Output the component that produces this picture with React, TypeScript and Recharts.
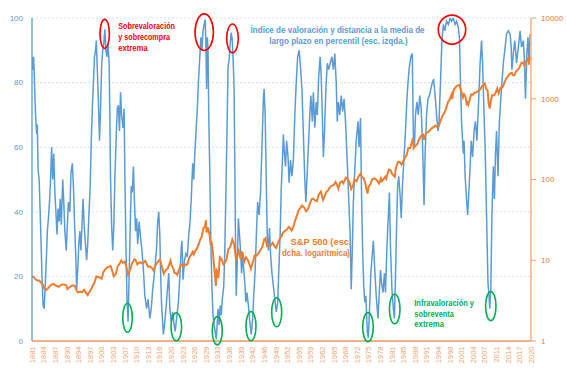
import React from 'react';
import { ComposedChart, Line, XAxis, YAxis, CartesianGrid, ReferenceDot } from 'recharts';

// Valuation index percentile (left axis): [year, value]
const valuation: [number, number][] = [
  [1881.0, 84], [1881.15, 88], [1881.3, 84], [1881.45, 88], [1881.7, 80], [1882.0, 70], [1882.3, 64], [1882.5, 67],
  [1882.7, 53], [1883.0, 50], [1883.2, 43], [1883.5, 32], [1883.8, 20], [1884.1, 11], [1884.4, 10], [1884.7, 17],
  [1885.0, 25], [1885.3, 34], [1885.6, 38], [1885.9, 43], [1886.2, 50], [1886.5, 60], [1886.8, 50], [1887.1, 58],
  [1887.4, 46], [1887.7, 40], [1888.0, 33], [1888.3, 41], [1888.6, 37], [1888.9, 44], [1889.2, 36], [1889.6, 50],
  [1889.9, 43], [1890.2, 34], [1890.6, 28], [1890.9, 36], [1891.2, 43], [1891.6, 40], [1891.9, 52], [1892.3, 55],
  [1892.6, 48], [1892.9, 37], [1893.3, 25], [1893.5, 16], [1893.8, 22], [1894.1, 30], [1894.4, 34], [1894.7, 28],
  [1895.0, 36], [1895.3, 44], [1895.6, 36], [1895.9, 31], [1896.3, 25], [1896.6, 30], [1896.9, 38], [1897.3, 48],
  [1897.6, 62], [1897.9, 72], [1898.2, 80], [1898.5, 88], [1898.8, 90], [1899.0, 93], [1899.3, 84], [1899.6, 74],
  [1899.9, 62], [1900.2, 72], [1900.5, 85], [1900.8, 90], [1901.1, 92], [1901.4, 96.5], [1901.7, 90], [1902.0, 88],
  [1902.3, 92], [1902.6, 86], [1902.8, 70], [1903.0, 50], [1903.3, 36], [1903.6, 28], [1903.9, 35], [1904.2, 50],
  [1904.6, 64], [1904.9, 72], [1905.2, 73], [1905.5, 65], [1905.8, 77], [1906.1, 70], [1906.5, 66], [1906.8, 72],
  [1907.0, 52], [1907.3, 30], [1907.6, 13], [1907.9, 6], [1908.2, 20], [1908.5, 35], [1908.8, 48], [1909.1, 46],
  [1909.4, 54], [1909.7, 43], [1910.0, 34], [1910.3, 38], [1910.6, 30], [1911.0, 37], [1911.4, 32], [1911.8, 28],
  [1912.2, 22], [1912.6, 14], [1913.1, 10], [1913.5, 13], [1914.0, 7], [1914.4, 10], [1914.8, 16], [1915.2, 20],
  [1915.6, 25], [1915.9, 29], [1916.2, 37], [1916.5, 40], [1916.8, 33], [1917.0, 22], [1917.3, 11], [1917.8, 2],
  [1918.2, 6], [1918.6, 11], [1919.0, 17], [1919.3, 21], [1919.6, 10], [1920.0, 6], [1920.4, 9], [1920.8, 5],
  [1921.1, 3], [1921.5, 7], [1922.0, 12], [1922.4, 20], [1922.8, 29], [1923.0, 31], [1923.3, 19], [1923.7, 25],
  [1924.1, 27], [1924.5, 26], [1924.9, 33], [1925.2, 36], [1925.6, 44], [1926.0, 55], [1926.3, 50], [1926.6, 58],
  [1927.0, 66], [1927.3, 72], [1927.6, 80], [1928.0, 88], [1928.3, 94], [1928.6, 90], [1928.9, 96], [1929.2, 98],
  [1929.5, 99.5], [1929.7, 92], [1929.9, 78], [1930.1, 94], [1930.3, 90], [1930.5, 70], [1930.8, 52], [1931.1, 30],
  [1931.4, 16], [1931.7, 8], [1932.0, 5], [1932.3, 3], [1932.6, 0.5], [1932.9, 6], [1933.1, 10], [1933.4, 5],
  [1933.7, 11], [1934.0, 8], [1934.3, 13], [1934.7, 17], [1935.0, 28], [1935.3, 46], [1935.6, 64], [1935.9, 85],
  [1936.2, 87], [1936.5, 92], [1936.8, 95.5], [1937.1, 93], [1937.4, 85], [1937.6, 78], [1937.8, 55], [1938.0, 30],
  [1938.2, 14], [1938.5, 25], [1938.8, 38], [1939.1, 33], [1939.4, 28], [1939.7, 21], [1940.0, 27], [1940.3, 22],
  [1940.6, 18], [1940.9, 12], [1941.2, 15], [1941.6, 11], [1942.0, 6], [1942.4, 2], [1942.8, 7], [1943.1, 14],
  [1943.5, 22], [1943.9, 35], [1944.2, 43], [1944.6, 39], [1945.0, 46], [1945.4, 60], [1945.8, 75], [1946.0, 78],
  [1946.3, 70], [1946.6, 50], [1946.9, 32], [1947.2, 28], [1947.5, 35], [1947.8, 27], [1948.2, 21], [1948.6, 17],
  [1949.0, 13], [1949.4, 9], [1949.8, 12], [1950.1, 21], [1950.5, 33], [1950.8, 47], [1951.1, 55], [1951.4, 64],
  [1951.7, 58], [1952.0, 54], [1952.3, 62], [1952.7, 57], [1953.0, 49], [1953.4, 56], [1953.8, 51], [1954.2, 56],
  [1954.6, 70], [1955.0, 80], [1955.4, 88], [1955.8, 90], [1956.2, 85], [1956.6, 78], [1957.0, 64], [1957.4, 50],
  [1957.7, 43], [1958.0, 50], [1958.4, 60], [1958.8, 70], [1959.1, 76], [1959.5, 68], [1959.8, 77], [1960.2, 66],
  [1960.6, 74], [1960.9, 70], [1961.3, 82], [1961.7, 88], [1962.0, 82], [1962.3, 70], [1962.6, 57], [1962.9, 64],
  [1963.3, 78], [1963.7, 86], [1964.1, 84], [1964.5, 86], [1965.0, 88], [1965.4, 84], [1965.8, 89], [1966.2, 80],
  [1966.5, 68], [1966.8, 74], [1967.2, 70], [1967.6, 76], [1968.0, 71], [1968.4, 75], [1968.9, 66], [1969.3, 55],
  [1969.7, 44], [1970.1, 33], [1970.4, 16], [1970.7, 28], [1971.0, 43], [1971.4, 53], [1971.8, 62], [1972.3, 68],
  [1972.6, 60], [1973.0, 69], [1973.3, 45], [1973.6, 28], [1973.9, 17], [1974.2, 12], [1974.5, 14], [1974.9, 3],
  [1975.2, 1], [1975.5, 9], [1975.9, 21], [1976.3, 27], [1976.6, 31], [1977.0, 22], [1977.4, 14], [1977.9, 7],
  [1978.3, 16], [1978.6, 22], [1978.9, 18], [1979.3, 15], [1979.7, 21], [1980.0, 15], [1980.4, 29], [1980.8, 39],
  [1981.1, 46], [1981.4, 29], [1981.8, 16], [1982.2, 10], [1982.5, 7], [1982.8, 20], [1983.1, 35], [1983.4, 48],
  [1983.7, 51], [1984.1, 45], [1984.4, 38], [1984.8, 49], [1985.2, 57], [1985.6, 65], [1986.0, 75], [1986.3, 80],
  [1986.7, 85], [1987.1, 88], [1987.5, 89], [1987.8, 64], [1988.1, 60], [1988.4, 70], [1988.8, 74], [1989.2, 70],
  [1989.6, 76], [1990.0, 72], [1990.4, 60], [1990.8, 42], [1991.1, 58], [1991.5, 70], [1991.9, 75], [1992.3, 76],
  [1992.7, 78], [1993.1, 80], [1993.5, 81], [1993.9, 76], [1994.3, 70], [1994.7, 65], [1995.0, 68], [1995.4, 80],
  [1995.8, 93], [1996.2, 98], [1996.6, 96], [1997.1, 99], [1997.6, 98], [1998.1, 100], [1998.5, 99], [1999.0, 100],
  [1999.5, 98], [1999.9, 99], [2000.4, 97], [2000.7, 94], [2001.0, 80], [2001.3, 68], [2001.6, 62], [2001.8, 58],
  [2002.0, 62], [2002.3, 51], [2002.7, 44], [2003.0, 39], [2003.3, 45], [2003.7, 54], [2004.0, 62], [2004.4, 57],
  [2004.8, 65], [2005.2, 68], [2005.6, 62], [2006.0, 72], [2006.5, 86], [2006.9, 93], [2007.2, 86], [2007.6, 70],
  [2007.9, 60], [2008.3, 39], [2008.7, 18], [2009.0, 14], [2009.2, 10], [2009.5, 16], [2009.8, 39], [2010.2, 54],
  [2010.5, 44], [2010.8, 58], [2011.1, 65], [2011.5, 51], [2011.9, 68], [2012.3, 75], [2012.6, 80], [2013.0, 86],
  [2013.5, 91], [2013.9, 95], [2014.4, 96], [2014.9, 95], [2015.2, 91], [2015.4, 84], [2015.8, 89], [2016.2, 93],
  [2016.7, 86], [2017.2, 91], [2017.7, 96], [2018.1, 91], [2018.6, 93], [2018.9, 87], [2019.2, 75], [2019.6, 89],
  [2019.9, 94], [2020.2, 86], [2020.5, 95],
];

// S&P 500 level (right log axis): [year, price]
const sp500: [number, number][] = [
  [1881.0, 6.3], [1881.5, 6.2], [1882.0, 5.8], [1882.5, 5.6], [1883.0, 5.6], [1883.5, 5.3], [1884.0, 5.0], [1884.5, 4.4],
  [1885.0, 4.3], [1885.5, 4.5], [1886.0, 4.8], [1886.5, 5.0], [1887.0, 5.1], [1887.5, 4.9], [1888.0, 4.8], [1888.5, 4.7],
  [1889.0, 4.9], [1889.5, 5.0], [1890.0, 5.0], [1890.6, 4.9], [1890.9, 4.4], [1891.5, 4.6], [1892.0, 4.8], [1892.5, 4.9],
  [1893.0, 4.8], [1893.5, 4.2], [1893.8, 4.0], [1894.5, 4.1], [1895.0, 4.0], [1895.6, 4.3], [1896.0, 4.0], [1896.6, 3.7],
  [1897.0, 4.0], [1897.6, 4.4], [1898.0, 4.8], [1898.5, 5.3], [1899.0, 6.3], [1899.5, 6.2], [1900.0, 6.1], [1900.5, 5.9],
  [1901.0, 7.1], [1901.5, 7.7], [1902.0, 8.1], [1902.5, 8.3], [1903.0, 8.5], [1903.5, 7.3], [1903.9, 6.3], [1904.5, 6.8],
  [1905.0, 8.4], [1905.5, 9.0], [1906.0, 9.9], [1906.5, 9.3], [1907.0, 9.6], [1907.5, 8.0], [1907.9, 6.6], [1908.5, 7.7],
  [1909.0, 9.1], [1909.7, 10.3], [1910.0, 10.1], [1910.5, 8.9], [1911.0, 9.3], [1911.5, 9.4], [1912.0, 9.1], [1912.7, 9.8],
  [1913.0, 9.3], [1913.5, 8.3], [1914.0, 8.4], [1914.6, 8.0], [1915.0, 7.5], [1915.8, 9.0], [1916.0, 9.3], [1916.8, 10.2],
  [1917.0, 9.6], [1917.9, 6.8], [1918.5, 7.6], [1919.0, 7.9], [1919.8, 9.9], [1920.0, 8.8], [1920.5, 8.0], [1920.9, 7.0],
  [1921.5, 6.8], [1921.7, 6.6], [1922.0, 7.3], [1922.7, 8.8], [1923.0, 8.9], [1923.6, 8.4], [1924.0, 8.8], [1924.5, 8.9],
  [1925.0, 10.6], [1925.5, 11.6], [1926.0, 12.7], [1926.3, 11.8], [1926.8, 13.3], [1927.0, 13.4], [1927.5, 15.0], [1928.0, 17.5],
  [1928.5, 19.5], [1929.0, 24.9], [1929.4, 26.0], [1929.7, 31.3], [1929.9, 22.0], [1930.3, 25.5], [1930.7, 21.0], [1931.0, 16.0],
  [1931.3, 16.5], [1931.7, 12.0], [1932.0, 8.3], [1932.5, 4.8], [1932.7, 7.5], [1933.0, 7.1], [1933.2, 6.0], [1933.6, 10.9],
  [1934.0, 10.5], [1934.6, 8.9], [1935.0, 9.3], [1935.5, 10.3], [1936.0, 13.8], [1936.5, 14.5], [1937.1, 18.1], [1937.6, 15.8],
  [1938.2, 9.9], [1938.5, 11.5], [1938.9, 13.1], [1939.3, 11.0], [1939.8, 12.5], [1940.0, 12.3], [1940.4, 9.6], [1940.9, 10.9],
  [1941.5, 10.0], [1942.3, 7.8], [1942.8, 9.3], [1943.4, 11.5], [1943.9, 11.4], [1944.5, 12.3], [1945.0, 13.5], [1945.5, 14.6],
  [1946.0, 18.0], [1946.4, 18.7], [1946.8, 15.0], [1947.3, 15.1], [1947.8, 15.1], [1948.4, 16.5], [1948.9, 14.9], [1949.4, 14.2],
  [1949.9, 16.5], [1950.4, 18.5], [1950.8, 19.5], [1951.3, 21.8], [1951.8, 23.0], [1952.3, 23.8], [1952.9, 25.8], [1953.3, 25.0],
  [1953.7, 23.3], [1954.2, 26.0], [1954.7, 31.0], [1955.2, 36.0], [1955.7, 42.0], [1956.1, 44.0], [1956.6, 47.5], [1957.2, 45.0],
  [1957.8, 40.4], [1958.3, 43.0], [1958.8, 50.0], [1959.3, 57.0], [1959.7, 58.0], [1960.3, 55.0], [1960.8, 54.0], [1961.3, 65.0],
  [1961.9, 71.0], [1962.5, 56.0], [1962.9, 61.0], [1963.4, 70.0], [1963.9, 73.0], [1964.4, 80.0], [1964.9, 84.0], [1965.5, 85.0],
  [1966.0, 93.0], [1966.4, 87.0], [1966.8, 77.0], [1967.3, 92.0], [1967.8, 95.0], [1968.2, 90.0], [1968.9, 106.0], [1969.4, 102.0],
  [1969.9, 93.0], [1970.4, 76.0], [1970.9, 84.0], [1971.3, 100.0], [1971.9, 95.0], [1972.4, 108.0], [1973.0, 118.0], [1973.5, 106.0],
  [1973.9, 104.0], [1974.3, 91.0], [1974.8, 72.0], [1974.95, 67.0], [1975.3, 82.0], [1975.8, 88.0], [1976.3, 101.0], [1976.9, 103.0],
  [1977.5, 99.0], [1978.2, 89.0], [1978.7, 103.0], [1978.9, 95.0], [1979.4, 100.0], [1979.9, 108.0], [1980.2, 102.0], [1980.9, 133.0],
  [1981.4, 131.0], [1981.8, 118.0], [1982.6, 108.0], [1982.9, 138.0], [1983.5, 165.0], [1983.9, 166.0], [1984.5, 153.0], [1984.9, 166.0],
  [1985.5, 188.0], [1985.9, 200.0], [1986.4, 245.0], [1986.9, 245.0], [1987.4, 290.0], [1987.7, 329.0], [1987.9, 245.0], [1988.5, 265.0],
  [1988.9, 275.0], [1989.5, 320.0], [1989.9, 345.0], [1990.5, 360.0], [1990.8, 310.0], [1991.3, 375.0], [1991.9, 385.0], [1992.5, 410.0],
  [1992.9, 430.0], [1993.5, 445.0], [1993.9, 465.0], [1994.3, 450.0], [1994.9, 455.0], [1995.5, 545.0], [1995.9, 610.0], [1996.5, 670.0],
  [1996.9, 745.0], [1997.5, 910.0], [1997.9, 960.0], [1998.5, 1120.0], [1998.7, 990.0], [1999.0, 1250.0], [1999.5, 1370.0], [1999.9, 1430.0],
  [2000.3, 1460.0], [2000.7, 1485.0], [2001.0, 1330.0], [2001.3, 1200.0], [2001.7, 1040.0], [2002.0, 1140.0], [2002.4, 1060.0], [2002.7, 870.0],
  [2002.9, 900.0], [2003.2, 840.0], [2003.6, 990.0], [2004.0, 1130.0], [2004.5, 1120.0], [2004.9, 1190.0], [2005.5, 1200.0], [2005.9, 1250.0],
  [2006.4, 1280.0], [2006.9, 1400.0], [2007.5, 1500.0], [2007.8, 1540.0], [2008.2, 1330.0], [2008.6, 1260.0], [2008.9, 870.0], [2009.2, 757.0],
  [2009.6, 980.0], [2009.9, 1110.0], [2010.4, 1100.0], [2010.9, 1200.0], [2011.3, 1340.0], [2011.7, 1170.0], [2012.2, 1370.0], [2012.6, 1380.0],
  [2012.9, 1420.0], [2013.4, 1630.0], [2013.9, 1800.0], [2014.4, 1930.0], [2014.9, 2050.0], [2015.4, 2100.0], [2015.7, 1950.0], [2016.1, 1950.0],
  [2016.5, 2150.0], [2016.9, 2250.0], [2017.4, 2400.0], [2017.9, 2660.0], [2018.1, 2790.0], [2018.5, 2800.0], [2018.9, 2570.0], [2019.3, 2900.0],
  [2019.7, 2980.0], [2019.95, 3230.0], [2020.2, 2650.0], [2020.5, 3280.0], [2020.7, 3390.0],
];

const xTickYears = [
  1881, 1884.25, 1887.5, 1890.75, 1894, 1897.25, 1900.5, 1903.75, 1907, 1910.25, 1913.5, 1916.75, 1920, 1923.25, 1926.5,
  1929.75, 1933, 1936.25, 1939.5, 1942.75, 1946, 1949.25, 1952.5, 1955.75, 1959, 1962.25, 1965.5, 1968.75, 1972, 1975.25,
  1978.5, 1981.75, 1985, 1988.25, 1991.5, 1994.75, 1998, 2001.25, 2004.5, 2007.75, 2011, 2014.25, 2017.5, 2020.75,
];
const leftTicks = [0, 20, 40, 60, 80, 100];
const rightTicks = [1, 10, 100, 1000, 10000];

// Annotation anchors (data coordinates): [year, value, rx, ry]
const redCircles: [number, number, number, number][] = [
  [1901.36, 95.1, 4.7, 14.5], [1929.23, 95.6, 9.2, 18.3], [1937.15, 93.7, 5.8, 14.3], [1998.62, 96.4, 13.7, 14.5],
];
const greenCircles: [number, number, number, number][] = [
  [1907.75, 7.2, 4.8, 14.5], [1921.41, 4.4, 5.3, 14], [1932.89, 3.2, 5, 14.2], [1942.33, 4.6, 5, 14.5],
  [1949.53, 8.9, 5, 14.5], [1975.1, 4.3, 5.3, 14.5], [1982.58, 9.9, 5.3, 14.8], [2009.49, 10.8, 5.2, 14.5],
];

type NoteLine = { text: string; dx: number; dy: number; len: number };
const redNote: NoteLine[] = [
  { text: 'Sobrevaloración', dx: 0, dy: 0, len: 56.7 },
  { text: 'y sobrecompra', dx: 0, dy: 10.6, len: 51.7 },
  { text: 'extrema', dx: 0, dy: 21.2, len: 29.4 },
];
const blueNote: NoteLine[] = [
  { text: 'Índice de valoración y distancia a la media de', dx: 0, dy: 0, len: 174 },
  { text: 'largo plazo en percentil (esc. izqda.)', dx: 18.6, dy: 11.5, len: 138.4 },
];
const orangeNote: NoteLine[] = [
  { text: 'S&P 500 (esc.', dx: 8.5, dy: 0, len: 61.2 },
  { text: 'dcha. logarítmica)', dx: 0, dy: 11.2, len: 68 },
];
const greenNote: NoteLine[] = [
  { text: 'Infravaloración y', dx: 0, dy: 0, len: 59.7 },
  { text: 'sobreventa', dx: 0, dy: 10.7, len: 39.7 },
  { text: 'extrema', dx: 0, dy: 20.7, len: 29.7 },
];

const BLUE = '#5B9BD5';
const ORANGE = '#ED7D31';
const RED = '#FF0000';
const GREEN = '#00B050';
const FONT = "'Liberation Sans Narrow', 'Liberation Sans', Arial, sans-serif";

const blueData = valuation.map(([year, v]) => ({ year, v }));
const orangeData = sp500.map(([year, p]) => ({ year, p }));

const ellipseShape = (rx: number, ry: number, color: string) => (props: any) => (
  <ellipse cx={props.cx} cy={props.cy} rx={rx} ry={ry} fill="none" stroke={color} strokeWidth={1.6} />
);

const noteShape = (lines: NoteLine[], color: string) => (props: any) => (
  <g>
    {lines.map((l, i) => (
      <text
        key={i}
        x={props.cx + l.dx}
        y={props.cy + l.dy}
        fill={color}
        fontSize={8.8}
        fontWeight="bold"
        fontFamily={FONT}
        textLength={l.len}
        lengthAdjust="spacingAndGlyphs"
      >
        {l.text}
      </text>
    ))}
  </g>
);

const XTick = (props: any) => {
  const { x, y, payload } = props;
  return (
    <g transform={`translate(${x},${y})`}>
      <text
        transform="rotate(-90)"
        x={-5.5}
        y={0}
        dy={2.8}
        textAnchor="end"
        fill="#F2A36E"
        fontSize={7.5}
        fontFamily="'Liberation Sans', Arial, sans-serif"
      >
        {String(Math.floor(payload.value))}
      </text>
    </g>
  );
};

export default function App() {
  return (
    <div style={{ position: 'absolute', left: 0, top: 0, background: '#fff' }}>
      <ComposedChart width={567} height={370} margin={{ top: 18, right: 0, bottom: 0, left: 0 }}>
        <CartesianGrid yAxisId="left" vertical={false} stroke="#D3DEF0" strokeDasharray="2 2" />
        <XAxis
          type="number"
          dataKey="year"
          domain={[1881, 2020.75]}
          ticks={xTickYears}
          allowDataOverflow
          interval={0}
          height={29}
          tickLine={false}
          tickSize={0}
          tickMargin={0}
          axisLine={{ stroke: '#F4B183', strokeWidth: 2 }}
          tick={<XTick />}
        />
        <YAxis
          yAxisId="left"
          orientation="left"
          domain={[0, 100]}
          ticks={leftTicks}
          width={32}
          tickLine={false}
          tickSize={0}
          tickMargin={9}
          axisLine={{ stroke: BLUE, strokeWidth: 1.3 }}
          tick={{ fill: BLUE, fontSize: 8, fontFamily: "'Liberation Sans', Arial, sans-serif" }}
          allowDataOverflow
        />
        <YAxis
          yAxisId="right"
          orientation="right"
          scale="log"
          domain={[1, 10000]}
          ticks={rightTicks}
          width={36}
          tickSize={5}
          tickMargin={5}
          tickLine={{ stroke: '#F0A070' }}
          axisLine={{ stroke: '#F4B183', strokeWidth: 1.5 }}
          tick={{ fill: ORANGE, fontSize: 8, textAnchor: 'start', fontFamily: "'Liberation Sans', Arial, sans-serif" }}
          allowDataOverflow
        />
        <Line
          yAxisId="left"
          data={blueData}
          dataKey="v"
          type="linear"
          stroke={BLUE}
          strokeWidth={1.5}
          dot={false}
          isAnimationActive={false}
        />
        <Line
          yAxisId="right"
          data={orangeData}
          dataKey="p"
          type="linear"
          stroke={ORANGE}
          strokeWidth={2}
          dot={false}
          isAnimationActive={false}
        />
        {redCircles.map(([x, y, rx, ry], i) => (
          <ReferenceDot key={'r' + i} yAxisId="left" x={x} y={y} r={1} ifOverflow="visible" shape={ellipseShape(rx, ry, RED)} />
        ))}
        {greenCircles.map(([x, y, rx, ry], i) => (
          <ReferenceDot key={'g' + i} yAxisId="left" x={x} y={y} r={1} ifOverflow="visible" shape={ellipseShape(rx, ry, GREEN)} />
        ))}
        <ReferenceDot yAxisId="left" x={1905.17} y={96.5} r={1} ifOverflow="visible" shape={noteShape(redNote, RED)} />
        <ReferenceDot yAxisId="left" x={1942.22} y={95.36} r={1} ifOverflow="visible" shape={noteShape(blueNote, BLUE)} />
        <ReferenceDot yAxisId="left" x={1951.01} y={29.72} r={1} ifOverflow="visible" shape={noteShape(orangeNote, ORANGE)} />
        <ReferenceDot yAxisId="left" x={1988.06} y={10.84} r={1} ifOverflow="visible" shape={noteShape(greenNote, GREEN)} />
      </ComposedChart>
    </div>
  );
}
